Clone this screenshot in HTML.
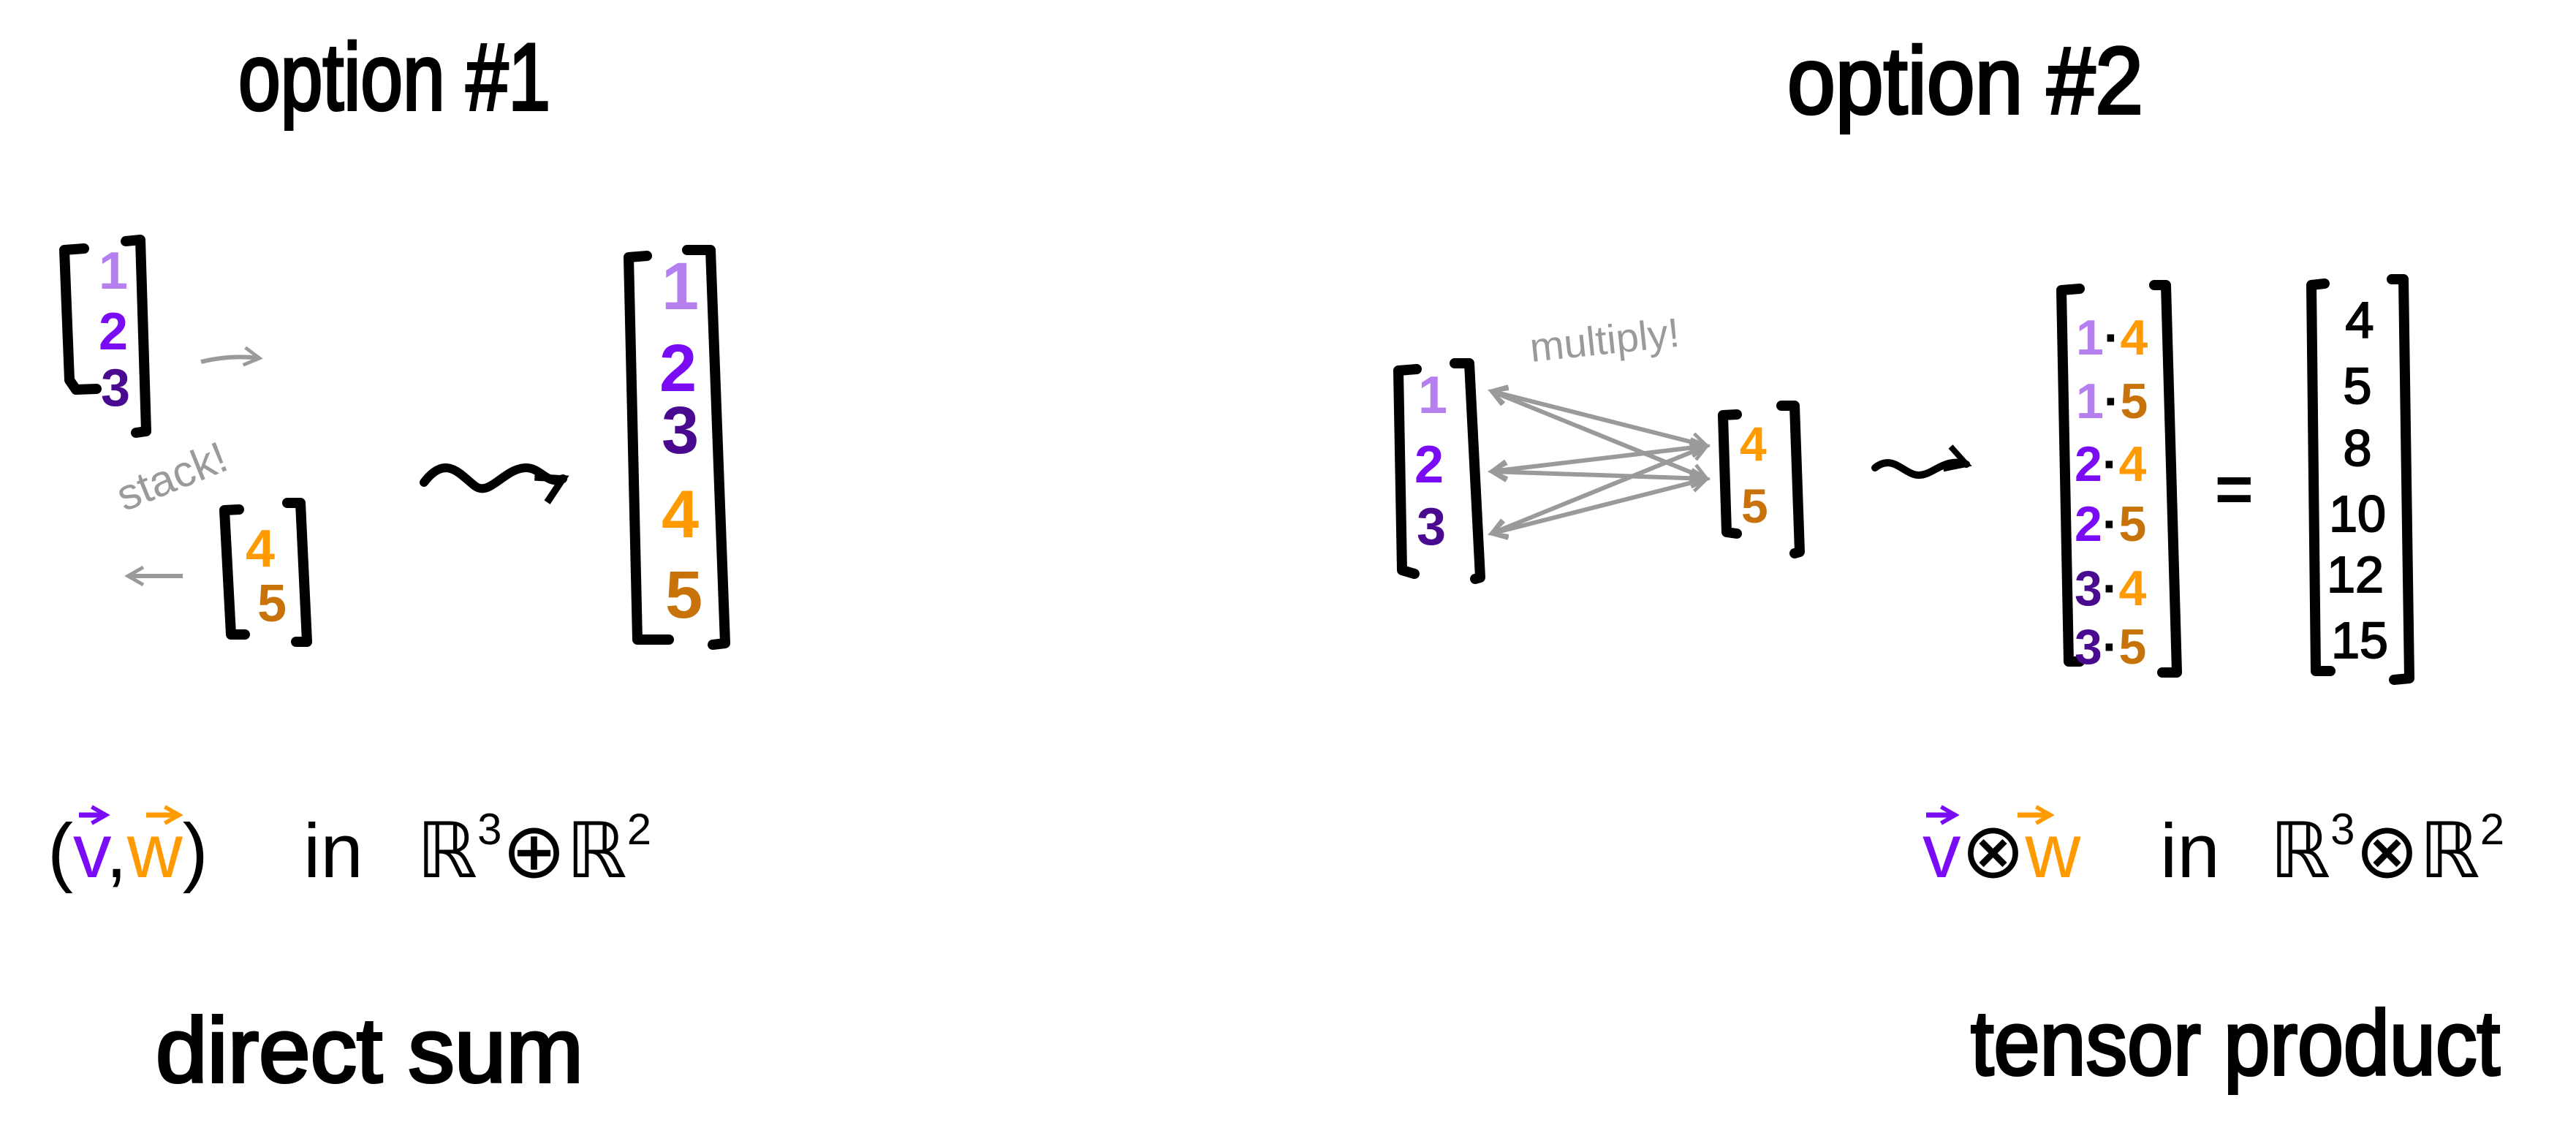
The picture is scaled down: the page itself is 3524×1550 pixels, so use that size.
<!DOCTYPE html>
<html><head><meta charset="utf-8"><style>
html,body{margin:0;padding:0;background:#fff}
svg{display:block}
text{font-family:"Liberation Sans",sans-serif}
</style></head><body>
<svg width="3524" height="1550" viewBox="0 0 3524 1550">
<defs>
<marker id="ah" viewBox="0 0 10 10" refX="8" refY="5" markerWidth="5" markerHeight="5" orient="auto-start-reverse"><path d="M1,1 L8,5 L1,9" fill="none" stroke="#9a9a9a" stroke-width="1.6"/></marker>
<marker id="ak" viewBox="0 0 10 10" refX="8" refY="5" markerWidth="4" markerHeight="4" orient="auto"><path d="M1,1 L8,5 L1,9" fill="none" stroke="#000" stroke-width="2"/></marker>
<marker id="ap" viewBox="0 0 10 10" refX="8" refY="5" markerWidth="4" markerHeight="4" orient="auto"><path d="M1,1 L8,5 L1,9" fill="none" stroke="#7a0cf5" stroke-width="2"/></marker>
<marker id="ao" viewBox="0 0 10 10" refX="8" refY="5" markerWidth="4" markerHeight="4" orient="auto"><path d="M1,1 L8,5 L1,9" fill="none" stroke="#ff9a00" stroke-width="2"/></marker>
</defs>
<g fill="none" stroke="#000" stroke-width="14" stroke-linecap="round" stroke-linejoin="round">
<path d="M115,340 L88,342 L95,520 L104,533 L132,532"/>
<path d="M172,330 L192,328 L200,590 L186,592"/>
<path d="M327,697 L307,698 L316,868 L335,868"/>
<path d="M393,688 L411,688 L420,878 L405,878"/>
<path d="M885,350 L860,352 L872,875 L915,875"/>
<path d="M940,342 L972,342 L992,880 L975,882"/>
<path d="M1938,505 L1913,507 L1918,780 L1935,785"/>
<path d="M1990,497 L2010,497 L2025,790 L2018,792"/>
<path d="M2376,567 L2357,568 L2362,728 L2376,730"/>
<path d="M2437,555 L2455,555 L2462,755 L2455,757"/>
<path d="M2845,395 L2820,397 L2830,905 L2845,905"/>
<path d="M2947,390 L2963,390 L2978,920 L2958,920"/>
<path d="M3180,388 L3162,390 L3168,918 L3188,918"/>
<path d="M3272,382 L3288,382 L3296,928 L3275,930"/>
</g>
<g stroke="#000" stroke-width="4" fill="#000">
<text x="326" y="150" font-size="130" textLength="427" lengthAdjust="spacingAndGlyphs">option #1</text>
<text x="2445" y="155" font-size="130" textLength="487" lengthAdjust="spacingAndGlyphs">option #2</text>
</g>
<g font-size="72" font-weight="bold">
<text x="135" y="395" fill="#b57ff0">1</text><text x="135" y="478" fill="#7a0cf5">2</text><text x="138" y="555" fill="#4a0a90">3</text></g>
<g font-size="72" font-weight="bold">
<text x="336" y="775" fill="#ff9a00">4</text><text x="352" y="850" fill="#c8720a">5</text></g>
<g font-size="92" font-weight="bold">
<text x="905" y="423" fill="#b57ff0">1</text><text x="902" y="535" fill="#7a0cf5">2</text><text x="905" y="620" fill="#4a0a90">3</text><text x="905" y="735" fill="#ff9a00">4</text><text x="910" y="845" fill="#c8720a">5</text></g>
<path d="M275,495 Q315,485 355,490" stroke="#9a9a9a" stroke-width="6" fill="none" marker-end="url(#ah)"/>
<path d="M250,788 L175,788" stroke="#9a9a9a" stroke-width="6" fill="none" marker-end="url(#ah)"/>
<text x="170" y="700" font-size="60" fill="#9a9a9a" transform="rotate(-22 170 700)">stack!</text>
<path d="M580,660 C610,620 630,650 650,665 C670,680 690,640 720,640 C740,640 750,665 770,655" stroke="#000" stroke-width="12" fill="none" stroke-linecap="round" marker-end="url(#ak)"/>
<g font-size="72" font-weight="bold">
<text x="1940" y="565" fill="#b57ff0">1</text><text x="1935" y="660" fill="#7a0cf5">2</text><text x="1938" y="745" fill="#4a0a90">3</text></g>
<g font-size="66" font-weight="bold">
<text x="2380" y="630" fill="#ff9a00">4</text><text x="2382" y="715" fill="#c8720a">5</text></g>
<g stroke="#9a9a9a" stroke-width="6" fill="none" marker-start="url(#ah)" marker-end="url(#ah)">
<line x1="2040" y1="535" x2="2335" y2="610"/><line x1="2040" y1="535" x2="2335" y2="655"/>
<line x1="2040" y1="645" x2="2335" y2="610"/><line x1="2040" y1="645" x2="2335" y2="655"/>
<line x1="2040" y1="730" x2="2335" y2="610"/><line x1="2040" y1="730" x2="2335" y2="655"/>
</g>
<text x="2095" y="495" font-size="56" fill="#9a9a9a" transform="rotate(-6 2095 495)">multiply!</text>
<path d="M2565,640 C2590,620 2605,650 2625,650 C2645,650 2660,625 2690,635" stroke="#000" stroke-width="10" fill="none" stroke-linecap="round" marker-end="url(#ak)"/>
<g font-size="68" font-weight="bold">
<text x="2840" y="485"><tspan fill="#b57ff0">1</tspan><tspan fill="#000">·</tspan><tspan fill="#ff9a00">4</tspan></text>
<text x="2840" y="572"><tspan fill="#b57ff0">1</tspan><tspan fill="#000">·</tspan><tspan fill="#c8720a">5</tspan></text>
<text x="2838" y="658"><tspan fill="#7a0cf5">2</tspan><tspan fill="#000">·</tspan><tspan fill="#ff9a00">4</tspan></text>
<text x="2838" y="740"><tspan fill="#7a0cf5">2</tspan><tspan fill="#000">·</tspan><tspan fill="#c8720a">5</tspan></text>
<text x="2838" y="828"><tspan fill="#4a0a90">3</tspan><tspan fill="#000">·</tspan><tspan fill="#ff9a00">4</tspan></text>
<text x="2838" y="908"><tspan fill="#4a0a90">3</tspan><tspan fill="#000">·</tspan><tspan fill="#c8720a">5</tspan></text>
</g>
<text x="3030" y="700" font-size="90" font-weight="bold" fill="#000">=</text>
<g font-size="70" fill="#000" stroke="#000" stroke-width="2" text-anchor="middle">
<text x="3228" y="462">4</text><text x="3225" y="552">5</text><text x="3225" y="637">8</text><text x="3225" y="727">10</text><text x="3222" y="810">12</text><text x="3228" y="900">15</text></g>
<g font-size="105" fill="#000">
<text x="65" y="1200">(<tspan fill="#7a0cf5">v</tspan>,<tspan fill="#ff9a00">w</tspan>)</text>
<text x="415" y="1200">in</text>
<text x="570" y="1200">ℝ<tspan font-size="60" dy="-45">3</tspan><tspan dy="45">⊕ℝ</tspan><tspan font-size="60" dy="-45">2</tspan></text>
</g>
<path d="M108,1115 L145,1115" stroke="#7a0cf5" stroke-width="7" marker-end="url(#ap)"/>
<path d="M200,1115 L245,1115" stroke="#ff9a00" stroke-width="7" marker-end="url(#ao)"/>
<g font-size="105" fill="#000">
<text x="2630" y="1200"><tspan fill="#7a0cf5">v</tspan>⊗<tspan fill="#ff9a00">w</tspan></text>
<text x="2955" y="1200">in</text>
<text x="3105" y="1200">ℝ<tspan font-size="60" dy="-45">3</tspan><tspan dy="45">⊗ℝ</tspan><tspan font-size="60" dy="-45">2</tspan></text>
</g>
<path d="M2635,1115 L2675,1115" stroke="#7a0cf5" stroke-width="7" marker-end="url(#ap)"/>
<path d="M2760,1115 L2805,1115" stroke="#ff9a00" stroke-width="7" marker-end="url(#ao)"/>
<g stroke="#000" stroke-width="4" fill="#000">
<text x="213" y="1480" font-size="125" textLength="585" lengthAdjust="spacingAndGlyphs">direct sum</text>
<text x="2696" y="1470" font-size="125" textLength="724" lengthAdjust="spacingAndGlyphs">tensor product</text>
</g>
</svg>
</body></html>
